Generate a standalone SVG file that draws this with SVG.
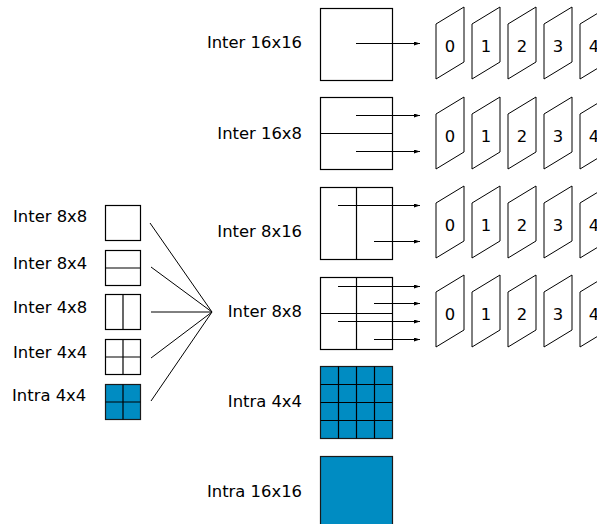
<svg xmlns="http://www.w3.org/2000/svg" width="597" height="524" viewBox="0 0 597 524">
<defs>
<style>
text{font-family:"DejaVu Sans","Verdana",sans-serif;font-size:16.4px;fill:#000}
.r{text-anchor:end}
.n{text-anchor:middle}
.box{fill:#fff;stroke:#000;stroke-width:1.2}
.blue{fill:#008cc2;stroke:#1a1a1a;stroke-width:1.2}
.div{stroke:#000;stroke-width:1.2;fill:none}
.ln{stroke:#000;stroke-width:1;fill:none}
.arr{stroke:#000;stroke-width:1;fill:none;marker-end:url(#ah)}
.pg{fill:#fff;stroke:#000;stroke-width:1}
</style>
<marker id="ah" viewBox="0 0 6 4" refX="6" refY="2" markerWidth="6" markerHeight="4" markerUnits="userSpaceOnUse" orient="auto">
<path d="M0,0 L6,2 L0,4 Z" fill="#000"/>
</marker>
<g id="frames">
<polygon class="pg" points="436,24 464,7 464,62 436,79"/>
<polygon class="pg" points="472,24 500,7 500,62 472,79"/>
<polygon class="pg" points="508,24 536,7 536,62 508,79"/>
<polygon class="pg" points="544,24 572,7 572,62 544,79"/>
<polygon class="pg" points="580,24 608,7 608,62 580,79"/>
<text class="n" x="450" y="52">0</text>
<text class="n" x="486" y="52">1</text>
<text class="n" x="522" y="52">2</text>
<text class="n" x="558" y="52">3</text>
<text class="n" x="594" y="52">4</text>
</g>
</defs>

<g id="left-8x8">
<rect class="box" x="105.5" y="205.5" width="35" height="35"/>
<text x="13" y="222">Inter 8x8</text>
</g>
<g id="left-8x4">
<rect class="box" x="105.5" y="250.5" width="35" height="35"/>
<line class="div" x1="105.5" y1="268" x2="140.5" y2="268"/>
<text x="13" y="269">Inter 8x4</text>
</g>
<g id="left-4x8">
<rect class="box" x="105.5" y="294.5" width="35" height="35"/>
<line class="div" x1="123" y1="294.5" x2="123" y2="329.5"/>
<text x="13" y="313">Inter 4x8</text>
</g>
<g id="left-4x4">
<rect class="box" x="105.5" y="339.5" width="35" height="35"/>
<line class="div" x1="123" y1="339.5" x2="123" y2="374.5"/>
<line class="div" x1="105.5" y1="357" x2="140.5" y2="357"/>
<text x="13" y="358">Inter 4x4</text>
</g>
<g id="left-intra4x4">
<rect class="blue" x="105.5" y="384.5" width="35" height="35"/>
<line class="div" x1="123" y1="384.5" x2="123" y2="419.5"/>
<line class="div" x1="105.5" y1="402" x2="140.5" y2="402"/>
<text x="12" y="401">Intra 4x4</text>
</g>

<g id="inter16x16">
<rect class="box" x="320.5" y="8.5" width="72" height="72"/>
<text class="r" x="302" y="48">Inter 16x16</text>
</g>
<g id="inter16x8">
<rect class="box" x="320.5" y="97.5" width="72" height="72"/>
<line class="div" x1="320.5" y1="133.5" x2="392.5" y2="133.5"/>
<text class="r" x="302" y="139">Inter 16x8</text>
</g>
<g id="inter8x16">
<rect class="box" x="320.5" y="187.5" width="72" height="72"/>
<line class="div" x1="356.5" y1="187.5" x2="356.5" y2="259.5"/>
<text class="r" x="302" y="237">Inter 8x16</text>
</g>
<g id="inter8x8">
<rect class="box" x="320.5" y="277.5" width="72" height="72"/>
<line class="div" x1="356.5" y1="277.5" x2="356.5" y2="349.5"/>
<line class="div" x1="320.5" y1="313.5" x2="392.5" y2="313.5"/>
<text class="r" x="302" y="317">Inter 8x8</text>
</g>
<g id="intra4x4">
<rect class="blue" x="320.5" y="366.5" width="72" height="72"/>
<path class="div" d="M338.5,366.5V438.5M356.5,366.5V438.5M374.5,366.5V438.5M320.5,384.5H392.5M320.5,402.5H392.5M320.5,420.5H392.5"/>
<text class="r" x="302" y="407">Intra 4x4</text>
</g>
<g id="intra16x16">
<rect class="blue" x="320.5" y="456.5" width="72" height="72"/>
<text class="r" x="302" y="497">Intra 16x16</text>
</g>

<g id="refs-row1"><use href="#frames"/></g>
<g id="refs-row2"><use href="#frames" y="90"/></g>
<g id="refs-row3"><use href="#frames" y="179"/></g>
<g id="refs-row4"><use href="#frames" y="268"/></g>

<g id="connectors">
<line class="ln" x1="150" y1="223" x2="212" y2="312"/>
<line class="ln" x1="151" y1="267" x2="212" y2="312"/>
<line class="ln" x1="151" y1="312" x2="212" y2="312"/>
<line class="ln" x1="151" y1="358" x2="212" y2="312"/>
<line class="ln" x1="151" y1="401" x2="212" y2="312"/>
<line class="arr" x1="356" y1="43.5" x2="420" y2="43.5"/>
<line class="arr" x1="356" y1="115.5" x2="420" y2="115.5"/>
<line class="arr" x1="356" y1="151.5" x2="420" y2="151.5"/>
<line class="arr" x1="338" y1="205.5" x2="420" y2="205.5"/>
<line class="arr" x1="374" y1="241.5" x2="420" y2="241.5"/>
<line class="arr" x1="338" y1="286.5" x2="420" y2="286.5"/>
<line class="arr" x1="374" y1="303.5" x2="420" y2="303.5"/>
<line class="arr" x1="338" y1="321.5" x2="420" y2="321.5"/>
<line class="arr" x1="374" y1="339.5" x2="420" y2="339.5"/>
</g>
</svg>
